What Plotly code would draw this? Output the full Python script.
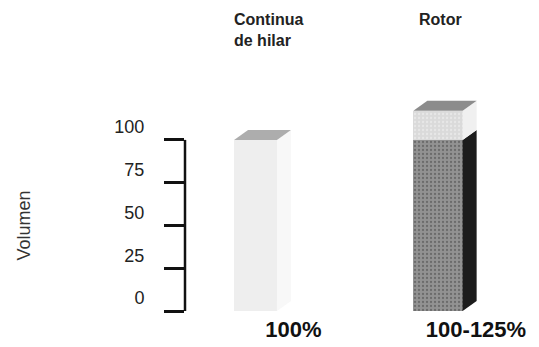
import plotly.graph_objects as go

# Spinning systems compared, with their production volume
sistemas = ["Continua<br>de hilar", "Rotor"]
rangos = ["100%", "100-125%"]
volumen_base = [100, 100]      # lower block of each column
volumen_extra = [0, 17]        # extra volume stacked on top (rotor only)
ticks_y = [0, 25, 50, 75, 100]

# Canvas / layout geometry
W, H = 539, 347
ML, MR, MT, MB = 185, 20, 92, 36
PW, PH = W - ML - MR, H - MT - MB
X_RANGE = [-0.3863, 1.4438]
Y_RANGE = [0, 128]
px_x = PW / (X_RANGE[1] - X_RANGE[0])
px_y = PH / (Y_RANGE[1] - Y_RANGE[0])

# Pseudo-3D depth of the columns, in pixels, turned into data units
DEPTH_PX_X, DEPTH_PX_Y = 14, 10
dx = DEPTH_PX_X / px_x
dy = DEPTH_PX_Y / px_y

anchos = [0.235, 0.27]
pos = list(range(len(sistemas)))

front_base = ["#eeeeee", "#929292"]
pattern_shape = ["", "."]
top_col = ["#adadad", "#8c8c8c"]
side_base = ["#f8f8f8", "#1c1c1c"]
front_extra = "#dadada"
side_extra = "#f0f0f0"

FONT = "Liberation Sans, Arial"

fig = go.Figure()
fig.add_trace(go.Bar(
    x=pos, y=volumen_base, width=anchos,
    marker=dict(color=front_base, line=dict(width=0),
                pattern=dict(shape=pattern_shape, fgcolor="#b8b8b8",
                             size=4, solidity=0.25)),
    hoverinfo="skip", showlegend=False,
))
fig.add_trace(go.Bar(
    x=pos, y=volumen_extra, width=anchos,
    marker=dict(color=front_extra, line=dict(width=0),
                pattern=dict(shape=".", fgcolor="#f4f4f4", size=4, solidity=0.25)),
    hoverinfo="skip", showlegend=False,
))


def poly(points, color):
    path = "M " + " L ".join(f"{x},{y}" for x, y in points) + " Z"
    return dict(type="path", path=path, xref="x", yref="y",
                fillcolor=color, line=dict(width=0), layer="above")


shapes = []
for i, c in enumerate(pos):
    w = anchos[i]
    xl, xr = c - w / 2, c + w / 2
    base = volumen_base[i]
    total = base + volumen_extra[i]
    # side face of the lower block
    shapes.append(poly([(xr, 0), (xr + dx, dy), (xr + dx, base + dy), (xr, base)],
                       side_base[i]))
    # side face of the stacked block
    if volumen_extra[i] > 0:
        shapes.append(poly([(xr, base), (xr + dx, base + dy),
                            (xr + dx, total + dy), (xr, total)], side_extra))
    # top face
    shapes.append(poly([(xl, total), (xl + dx, total + dy),
                        (xr + dx, total + dy), (xr, total)], top_col[i]))

# vertical axis line spanning only the ticked range
shapes.append(dict(type="line", xref="paper", yref="y", x0=0, x1=0,
                   y0=min(ticks_y) - 1.2, y1=max(ticks_y),
                   line=dict(color="#111111", width=2.5)))

annotations = []
for i, c in enumerate(pos):
    annotations.append(dict(
        text=sistemas[i], xref="x", yref="paper",
        x=c - anchos[i] / 2, y=1 + (MT - 9) / PH,
        xanchor="left", yanchor="top", align="left",
        xshift=-2 if i == 0 else 4, showarrow=False,
        font=dict(family=FONT, size=16, color="#222222", weight=700),
    ))
annotations.append(dict(
    text="Volumen", xref="paper", yref="y",
    x=(24 - ML) / PW, y=50, xanchor="center", yanchor="middle",
    textangle=-90, showarrow=False,
    font=dict(family=FONT, size=18, color="#333333"),
))

fig.update_layout(
    width=W, height=H,
    margin=dict(l=ML, r=MR, t=MT, b=MB, pad=0, autoexpand=False),
    paper_bgcolor="white", plot_bgcolor="white",
    barmode="stack", bargap=0,
    shapes=shapes, annotations=annotations,
    xaxis=dict(range=X_RANGE, tickvals=pos, ticktext=rangos, automargin=False,
               showgrid=False, zeroline=False, showline=False, ticks="",
               ticklabelshift=38, ticklabelstandoff=3,
               tickfont=dict(family=FONT, size=22, color="#111111", weight=700)),
    yaxis=dict(range=Y_RANGE, tickvals=ticks_y, automargin=False,
               showgrid=False, zeroline=False, showline=False,
               ticks="outside", ticklen=20, tickwidth=2.5, tickcolor="#111111",
               ticklabelshift=-13, ticklabelstandoff=16,
               tickfont=dict(family=FONT, size=18, color="#222222")),
)

fig.write_html("out.html")
